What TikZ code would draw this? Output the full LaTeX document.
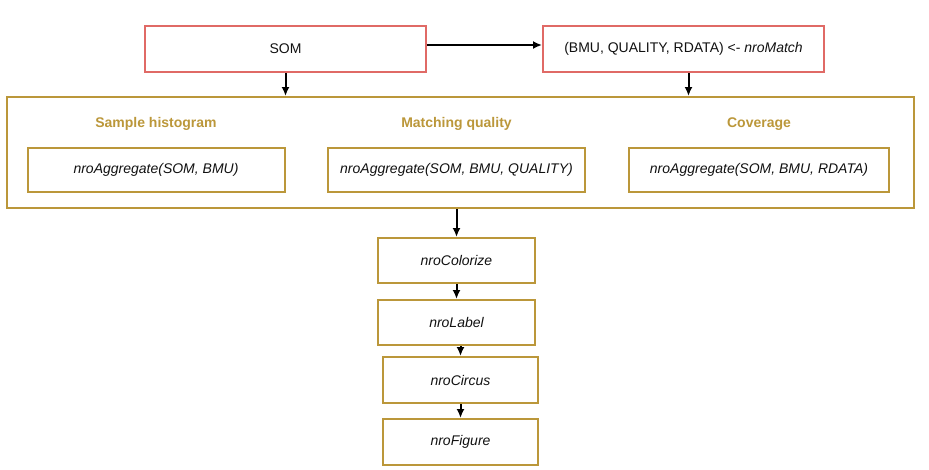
\documentclass[tikz,border=0pt]{standalone}
\usepackage{fontspec}
\setmainfont{Liberation Sans}
\usepackage{tikz}
\usetikzlibrary{arrows.meta,positioning}
\definecolor{somred}{HTML}{E06A66}
\definecolor{aggold}{HTML}{BB973A}
\definecolor{inktext}{HTML}{111111}
\tikzset{redbox/.style={draw=somred,line width=2pt,rectangle,minimum width=281pt,minimum height=46pt,font=\fontsize{14}{16}\selectfont,text=inktext},
    goldbox/.style={draw=aggold,line width=2pt,rectangle,minimum width=257pt,minimum height=44pt,font=\fontsize{14}{16}\selectfont\itshape,text=inktext},
    stepbox/.style={goldbox,minimum width=157pt,minimum height=45pt},
    grouptitle/.style={font=\fontsize{14}{16}\selectfont\bfseries,text=aggold},
    flow/.style={-{Latex[length=9pt,width=8pt]},line width=2pt}
}
\begin{document}
\begin{tikzpicture}[x=1pt,y=-1pt]

\useasboundingbox (0,0) rectangle (929,469);

% matching

\node (som) at (285.5,49) [redbox] {SOM};
\node (match) at (683.5,49) [redbox] {(BMU, QUALITY, RDATA) <- \textit{nroMatch}};

\draw [flow] ([yshift=4pt]som.east) -- ([yshift=4pt]match.west);

% aggregation

\node (agg) at (460.5,152.5) [draw=aggold,line width=2pt,rectangle,minimum width=907pt,minimum height=111pt] {};

\node (histtitle) at (156,124) [grouptitle] {Sample histogram};
\node (qualtitle) at (456.5,124) [grouptitle] {Matching quality};
\node (covtitle) at (759,124) [grouptitle] {Coverage};

\node (hist) at (156,170) [goldbox] {nroAggregate(SOM, BMU)};
\node (qual) at (456.5,170) [goldbox] {nroAggregate(SOM, BMU, QUALITY)};
\node (cov) at (759,170) [goldbox,minimum width=260pt] {nroAggregate(SOM, BMU, RDATA)};

\draw [flow] (som.south) -- (som.south |- agg.north);
\draw [flow] ([xshift=5pt]match.south) -- ([xshift=5pt]match.south |- agg.north);

% plotting

\node (colorize) at (456.5,260.5) [stepbox] {nroColorize};
\node (label) [stepbox,below=15pt of colorize] {nroLabel};
\node (circus) at (460.5,380) [stepbox,minimum width=155pt,minimum height=46pt] {nroCircus};
\node (figure) [stepbox,below=14pt of circus,minimum width=155pt,minimum height=46pt] {nroFigure};

\draw [flow] (agg.south -| colorize) -- (colorize.north);
\draw [flow] (colorize) -- (label);
\draw [flow] (label.south -| circus) -- (circus.north);
\draw [flow] (circus) -- (figure);

\end{tikzpicture}
\end{document}
